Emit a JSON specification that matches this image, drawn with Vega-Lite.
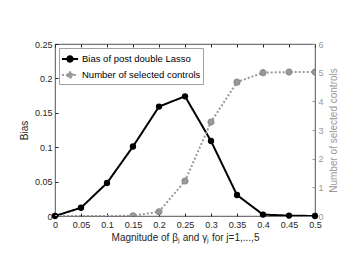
{
  "$schema": "https://vega.github.io/schema/vega-lite/v6.json",
  "width": 260,
  "height": 172,
  "autosize": "none",
  "padding": {"left": 55, "top": 44, "right": 44, "bottom": 53},
  "background": "white",
  "config": {
    "font": "Liberation Sans",
    "view": {"stroke": "#262626", "strokeWidth": 0.8},
    "axis": {"labelFont": "Liberation Sans", "titleFont": "Liberation Sans", "labelFontSize": 9, "titleFontSize": 10, "titleFontWeight": "normal", "grid": false, "tickSize": 3, "offset": -3, "domain": false, "labelPadding": 4, "labelOverlap": false, "labelFlush": false, "labelBound": false, "tickCount": 30}
  },
  "data": {"values": [
    {"x": 0, "bias": 0, "num": 0},
    {"x": 0.05, "bias": 0.012, "num": 0},
    {"x": 0.1, "bias": 0.048, "num": 0},
    {"x": 0.15, "bias": 0.101, "num": 0.01},
    {"x": 0.2, "bias": 0.159, "num": 0.15},
    {"x": 0.25, "bias": 0.174, "num": 1.22},
    {"x": 0.3, "bias": 0.109, "num": 3.28},
    {"x": 0.35, "bias": 0.0305, "num": 4.67},
    {"x": 0.4, "bias": 0.002, "num": 5.0},
    {"x": 0.45, "bias": 0.0006, "num": 5.02},
    {"x": 0.5, "bias": 0, "num": 5.02}
  ]},
  "layer": [
    {
      "layer": [
        {"mark": {"type": "line", "strokeWidth": 2, "clip": true},
         "encoding": {
           "x": {"field": "x", "type": "quantitative", "scale": {"domain": [0, 0.5], "nice": false}, "axis": {"title": "Magnitude of βⱼ and γⱼ for j=1,...,5", "values": [0,0.05,0.1,0.15,0.2,0.25,0.3,0.35,0.4,0.45,0.5], "tickCount": 30, "format": ".2~f", "labelColor": "#262626", "titleColor": "#262626", "tickColor": "#262626", "titlePadding": 3}},
           "y": {"field": "bias", "type": "quantitative", "scale": {"domain": [0, 0.25], "nice": false}, "axis": {"title": "Bias", "orient": "left", "values": [0,0.05,0.1,0.15,0.2,0.25], "tickCount": 30, "format": ".2~f", "labelPadding": 3, "labelColor": "#262626", "titleColor": "#262626", "tickColor": "#262626", "titlePadding": 5}},
           "color": {"datum": "Bias of post double Lasso", "type": "nominal", "scale": {"domain": ["Bias of post double Lasso", "Number of selected controls"], "range": ["#000000", "#999999"]}, "legend": {"title": null, "orient": "top-left", "offset": 4, "strokeColor": "#a0a0a0", "fillColor": "white", "padding": 2, "labelFontSize": 9.5, "labelFont": "Liberation Sans", "labelColor": "#000", "symbolType": "M-1,0H1M-0.35,0A0.35,0.35 0 1,0 0.35,0A0.35,0.35 0 1,0 -0.35,0", "symbolSize": 260, "symbolStrokeWidth": 1.8, "rowPadding": 0, "labelOffset": 3}},
           "strokeDash": {"datum": "Bias of post double Lasso", "type": "nominal", "scale": {"domain": ["Bias of post double Lasso", "Number of selected controls"], "range": [[1, 0], [2, 2]]}, "legend": {"title": null}}
         }},
        {"mark": {"type": "point", "filled": true, "size": 40, "opacity": 1, "clip": false},
         "encoding": {
           "x": {"field": "x", "type": "quantitative"},
           "y": {"field": "bias", "type": "quantitative"},
           "color": {"datum": "Bias of post double Lasso", "type": "nominal"}
         }}
      ]
    },
    {
      "layer": [
        {"mark": {"type": "line", "strokeWidth": 2, "clip": true},
         "encoding": {
           "x": {"field": "x", "type": "quantitative", "axis": {"orient": "top", "labels": false, "title": null, "values": [0,0.05,0.1,0.15,0.2,0.25,0.3,0.35,0.4,0.45,0.5], "tickCount": 30, "tickColor": "#262626"}},
           "y": {"field": "num", "type": "quantitative", "scale": {"domain": [0, 6], "nice": false}, "axis": {"title": "Number of selected controls", "orient": "right", "values": [0,1,2,3,4,5,6], "tickCount": 30, "format": "d", "labelPadding": 3, "labelColor": "#999999", "titleColor": "#999999", "tickColor": "#999999", "titleAngle": 270, "titleBaseline": "top", "titlePadding": 5}},
           "color": {"datum": "Number of selected controls", "type": "nominal"},
           "strokeDash": {"datum": "Number of selected controls", "type": "nominal"}
         }},
        {"transform": [{"filter": "datum.x >= 0.15"}],
         "mark": {"type": "point", "filled": true, "size": 35, "opacity": 1, "stroke": "#8c8c8c", "strokeWidth": 1.2, "clip": true},
         "encoding": {
           "x": {"field": "x", "type": "quantitative"},
           "y": {"field": "num", "type": "quantitative"},
           "color": {"datum": "Number of selected controls", "type": "nominal"}
         }}
      ]
    }
  ],
  "resolve": {"scale": {"y": "independent"}, "axis": {"x": "independent"}}
}
